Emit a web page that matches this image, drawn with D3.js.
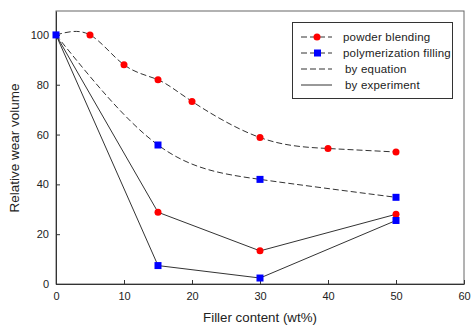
<!DOCTYPE html>
<html>
<head>
<meta charset="utf-8">
<script src="https://cdn.jsdelivr.net/npm/d3@7"></script>
<style>
  body { margin: 0; background: #fff; }
  text { font-family: "Liberation Sans", Arial, sans-serif; fill: #222; }
</style>
</head>
<body>
<svg id="chart" width="472" height="329"></svg>
<script>
// filler content (wt%) and relative wear volume
const powderEqX = [0, 5, 10, 15, 20, 30, 40, 50];
const powderEqY = [100, 100, 88, 82, 73.3, 58.8, 54.4, 53];
const polyEqX = [0, 15, 30, 50];
const polyEqY = [100, 55.8, 42, 34.8];
const powderExpX = [0, 15, 30, 50];
const powderExpY = [100, 28.8, 13.3, 28];
const polyExpX = [0, 15, 30, 50];
const polyExpY = [100, 7.4, 2.4, 25.5];
const xTicks = [0, 10, 20, 30, 40, 50, 60];
const yTicks = [0, 20, 40, 60, 80, 100];
const legendLabels = ['powder blending', 'polymerization filling', 'by equation', 'by experiment'];

const svg = d3.select('#chart');
const mLeft = 56, mRight = 464, mTop = 11, mBottom = 284;

const x = d3.scaleLinear().domain([0, 60]).range([mLeft, mRight]);
const y = d3.scaleLinear().domain([0, 109.6]).range([mBottom, mTop]);

const zip = (xs, ys) => xs.map((v, i) => [v, ys[i]]);

// frame
svg.append('rect')
  .attr('x', mLeft).attr('y', mTop)
  .attr('width', mRight - mLeft).attr('height', mBottom - mTop)
  .attr('fill', 'none').attr('stroke', '#666').attr('stroke-width', 1);

// axes with inward ticks
const xAxis = svg.append('g')
  .attr('transform', `translate(0,${mBottom})`)
  .call(d3.axisBottom(x).tickValues(xTicks).tickSizeInner(-4).tickSizeOuter(0).tickPadding(8));
const yAxis = svg.append('g')
  .attr('transform', `translate(${mLeft},0)`)
  .call(d3.axisLeft(y).tickValues(yTicks).tickSizeInner(-4).tickSizeOuter(0).tickPadding(7));
[xAxis, yAxis].forEach(g => {
  g.select('.domain').attr('stroke', '#333');
  g.selectAll('.tick line').attr('stroke', '#333');
  g.selectAll('.tick text').attr('font-size', 11).attr('fill', '#222')
    .attr('font-family', '"Liberation Sans", Arial, sans-serif');
});

// axis titles
svg.append('text')
  .attr('x', 260).attr('y', 322)
  .attr('text-anchor', 'middle').attr('font-size', 13.3)
  .text('Filler content (wt%)');
svg.append('text')
  .attr('transform', `translate(19,148) rotate(-90)`)
  .attr('text-anchor', 'middle').attr('font-size', 13.5)
  .text('Relative wear volume');

// lines
const smooth = d3.line().x(d => x(d[0])).y(d => y(d[1])).curve(d3.curveNatural);
const straight = d3.line().x(d => x(d[0])).y(d => y(d[1]));

svg.append('path').datum(zip(powderEqX, powderEqY))
  .attr('d', smooth).attr('fill', 'none')
  .attr('stroke', '#333').attr('stroke-dasharray', '6,3');
svg.append('path').datum(zip(polyEqX, polyEqY))
  .attr('d', smooth).attr('fill', 'none')
  .attr('stroke', '#333').attr('stroke-dasharray', '6,3');
svg.append('path').datum(zip(powderExpX, powderExpY))
  .attr('d', straight).attr('fill', 'none').attr('stroke', '#333');
svg.append('path').datum(zip(polyExpX, polyExpY))
  .attr('d', straight).attr('fill', 'none').attr('stroke', '#333');

// markers
const drawCircles = pts => svg.append('g').selectAll('circle')
  .data(pts).enter().append('circle')
  .attr('cx', d => x(d[0])).attr('cy', d => y(d[1]))
  .attr('r', 3.5).attr('fill', '#ff0000');
const drawSquares = pts => svg.append('g').selectAll('rect')
  .data(pts).enter().append('rect')
  .attr('x', d => x(d[0]) - 3.5).attr('y', d => y(d[1]) - 3.5)
  .attr('width', 7).attr('height', 7).attr('fill', '#0000ff');

drawCircles(zip(powderEqX, powderEqY).slice(1));
drawCircles(zip(powderExpX, powderExpY).slice(1));
drawSquares(zip(polyEqX, polyEqY));
drawSquares(zip(polyExpX, polyExpY).slice(1));

// legend
const lg = svg.append('g');
lg.append('rect')
  .attr('x', 292.5).attr('y', 22.5).attr('width', 160).attr('height', 76)
  .attr('fill', '#fff').attr('stroke', '#333');
const rowY = [37, 53, 69, 85];
legendLabels.forEach((label, i) => {
  const ly = rowY[i];
  const line = lg.append('line')
    .attr('x1', 301).attr('x2', 332).attr('y1', ly).attr('y2', ly)
    .attr('stroke', '#333');
  if (i !== 3) line.attr('stroke-dasharray', '6,3');
  if (i === 0) lg.append('circle').attr('cx', 317).attr('cy', ly).attr('r', 3.5).attr('fill', '#ff0000');
  if (i === 1) lg.append('rect').attr('x', 314).attr('y', ly - 3.5).attr('width', 7).attr('height', 7).attr('fill', '#0000ff');
  lg.append('text')
    .attr('x', i < 2 ? 343 : 345).attr('y', ly + 4)
    .attr('font-size', 11.5).attr('letter-spacing', 0.2)
    .text(label);
});
</script>
</body>
</html>
